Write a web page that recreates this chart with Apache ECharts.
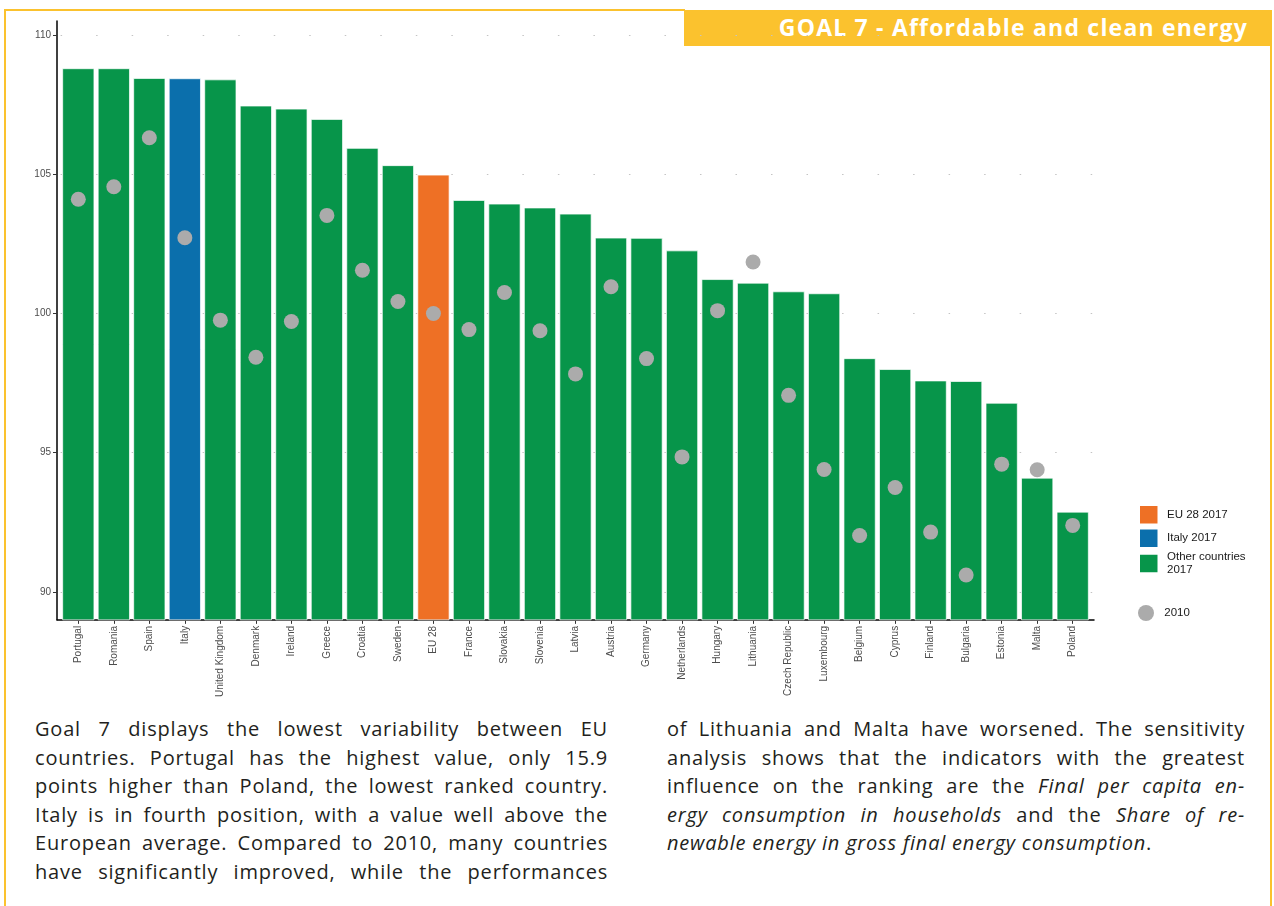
<!DOCTYPE html>
<html>
<head>
<meta charset="utf-8">
<title>GOAL 7 - Affordable and clean energy</title>
<script src="https://cdn.jsdelivr.net/npm/echarts@6/dist/echarts.min.js"></script>
<style>
  html, body { margin: 0; padding: 0; background: #fff; }
  body { position: relative; width: 1274px; height: 906px; overflow: hidden; }
  .rule { position: absolute; background: #fbc22e; }
  #banner {
    position: absolute; left: 684px; top: 10px; width: 588px; height: 36px;
    background: #fbc22e; color: #fff; box-sizing: border-box; padding-right: 24px;
    font-family: 'Open Sans', sans-serif; font-weight: 700; font-size: 23px;
    letter-spacing: 1.2px; line-height: 34px; text-align: right; white-space: nowrap;
  }
  #chart { position: absolute; left: 0; top: 0; width: 1274px; height: 700px; }
  .col {
    position: absolute; top: 715px; color: #231f20;
    font-family: 'Open Sans', sans-serif; font-size: 20px; letter-spacing: 0.8px;
    line-height: 28.6px;
  }
  .col div { text-align: justify; text-align-last: justify; }
  .col div.last { text-align-last: left; }
</style>
</head>
<body>
<div class="rule" style="left:5px;top:9px;width:680px;height:2px"></div>
<div class="rule" style="left:4px;top:9px;width:2px;height:897px"></div>
<div class="rule" style="left:1270px;top:44px;width:2px;height:862px"></div>
<div id="banner">GOAL 7 - Affordable and clean energy</div>
<div id="chart"></div>

<div class="col" style="left:35px;width:573px">
  <div>Goal 7 displays the lowest variability between EU</div>
  <div>countries. Portugal has the highest value, only 15.9</div>
  <div>points higher than Poland, the lowest ranked country.</div>
  <div>Italy is in fourth position, with a value well above the</div>
  <div>European average. Compared to 2010, many countries</div>
  <div>have significantly improved, while the performances</div>
</div>
<div class="col" style="left:667px;width:578px">
  <div>of Lithuania and Malta have worsened. The sensitivity</div>
  <div>analysis shows that the indicators with the greatest</div>
  <div>influence on the ranking are the <i>Final per capita en-</i></div>
  <div><i>ergy consumption in households</i> and the <i>Share of re-</i></div>
  <div class="last"><i>newable energy in gross final energy consumption</i>.</div>
</div>

<script>
// Composite index for Goal 7, by country (ranked on 2017)
const countries = ['Portugal', 'Romania', 'Spain', 'Italy', 'United Kingdom', 'Denmark',
  'Ireland', 'Greece', 'Croatia', 'Sweden', 'EU 28', 'France', 'Slovakia', 'Slovenia',
  'Latvia', 'Austria', 'Germany', 'Netherlands', 'Hungary', 'Lithuania', 'Czech Republic',
  'Luxembourg', 'Belgium', 'Cyprus', 'Finland', 'Bulgaria', 'Estonia', 'Malta', 'Poland'];

const values2017 = [108.8, 108.8, 108.45, 108.44, 108.4, 107.46, 107.35, 106.98, 105.94,
  105.32, 104.98, 104.07, 103.94, 103.8, 103.58, 102.72, 102.71, 102.26, 101.23, 101.1,
  100.79, 100.72, 98.39, 98.0, 97.59, 97.57, 96.79, 94.1, 92.88];

const values2010 = [104.1, 104.55, 106.31, 102.72, 99.76, 98.43, 99.71, 103.52, 101.55,
  100.43, 100.0, 99.42, 100.75, 99.38, 97.83, 100.96, 98.38, 94.85, 100.1, 101.85,
  97.06, 94.4, 92.03, 93.75, 92.15, 90.61, 94.59, 94.39, 92.39];

// Legend groups for the 2017 bars
const groupNames = ['EU 28 2017', 'Italy 2017', 'Other countries 2017'];
const groupColors = ['#ee7025', '#0b6fac', '#07954a'];
const groupOf = countries.map(c => c === 'EU 28' ? 0 : (c === 'Italy' ? 1 : 2));

const yTicks = [90, 95, 100, 105, 110];
const dotName = '2010';

const FONT = 'Liberation Sans, Arial, sans-serif';
const positions = countries.map((_, i) => i);

const barSeries = groupNames.map((name, g) => ({
  name: name,
  type: 'bar',
  barWidth: 32,
  barGap: '-100%',
  itemStyle: { color: groupColors[g], borderColor: '#ffffff', borderWidth: 0.7 },
  data: positions.filter(i => groupOf[i] === g).map(i => [i, values2017[i]]),
  z: 2
}));

const legendText = { fontSize: 11.5, color: '#1a1a1a', fontFamily: FONT, padding: [0, 0, 0, 3.5] };

const chart = echarts.init(document.getElementById('chart'), null, { renderer: 'canvas' });
chart.setOption({
  animation: false,
  backgroundColor: 'transparent',
  textStyle: { fontFamily: FONT },
  grid: { left: 57, top: 21, width: 1037, height: 600 },
  xAxis: {
    type: 'value', min: -0.6, max: 28.6,
    axisLine: { show: true, onZero: false, lineStyle: { color: '#000', width: 1.5 } },
    axisTick: { show: true, customValues: positions, length: 4, lineStyle: { color: '#333', width: 1 } },
    axisLabel: {
      customValues: positions, formatter: v => countries[v], rotate: 90,
      fontSize: 10, color: '#4d4d4d', margin: 6, fontFamily: FONT
    },
    splitLine: { show: false }
  },
  yAxis: {
    type: 'value', min: 89, max: 110.5,
    axisLine: { show: true, onZero: false, lineStyle: { color: '#000', width: 1.5 } },
    axisTick: { show: true, customValues: yTicks, length: 4, lineStyle: { color: '#333', width: 1 } },
    axisLabel: { customValues: yTicks, fontSize: 10, color: '#4d4d4d', margin: 6, fontFamily: FONT },
    splitLine: { show: true, lineStyle: { color: '#c4c4c4', width: 1, type: [1.5, 34.02], dashOffset: 31.9 } }
  },
  legend: [
    {
      data: groupNames, orient: 'vertical', left: 1138, top: 504, padding: 0,
      itemWidth: 19.5, itemHeight: 19.5, itemGap: 2, icon: 'rect', selectedMode: false,
      formatter: n => n === 'Other countries 2017' ? 'Other countries\n2017' : n,
      textStyle: Object.assign({ lineHeight: 12.5 }, legendText)
    },
    {
      data: [dotName], orient: 'vertical', left: 1138, top: 605, padding: 0,
      itemWidth: 19.5, itemHeight: 16, icon: 'circle', selectedMode: false,
      textStyle: legendText
    }
  ],
  series: barSeries.concat([{
    name: dotName,
    type: 'scatter',
    symbol: 'circle',
    symbolSize: 15,
    itemStyle: { color: '#ababab', opacity: 1 },
    data: positions.map(i => [i, values2010[i]]),
    z: 5
  }])
});
</script>
</body>
</html>
